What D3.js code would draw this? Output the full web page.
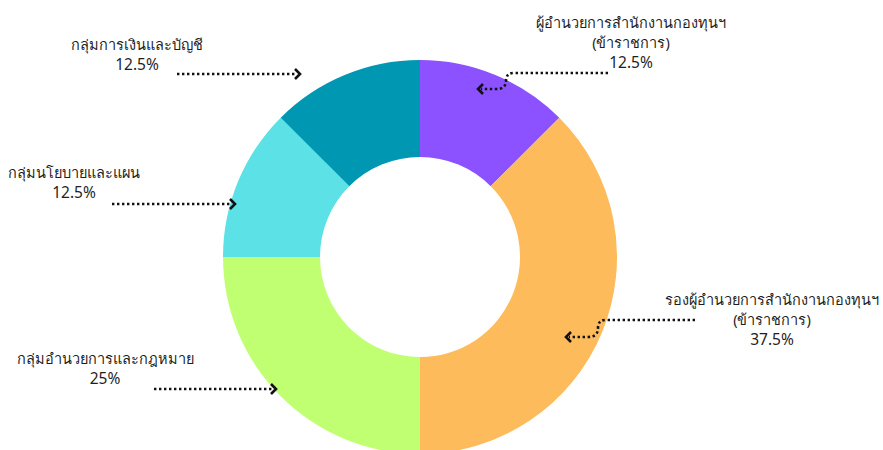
<!DOCTYPE html>
<html>
<head>
<meta charset="utf-8">
<script src="https://cdn.jsdelivr.net/npm/d3@7"></script>
<style>
  body { margin: 0; background: #fff; }
  text { font-family: "Noto Sans", "DejaVu Sans", sans-serif; fill: #1f1f1f; }
</style>
</head>
<body>
<svg id="donutSVG" width="883" height="450"></svg>
<script>
// slices clockwise from 12 o'clock
const categories = ['ผู้อำนวยการสำนักงานกองทุนฯ (ข้าราชการ)', 'รองผู้อำนวยการสำนักงานกองทุนฯ (ข้าราชการ)', 'กลุ่มอำนวยการและกฎหมาย', 'กลุ่มนโยบายและแผน', 'กลุ่มการเงินและบัญชี'];
const values = [12.5, 37.5, 25, 12.5, 12.5];
const labelLines = [
  ['ผู้อำนวยการสำนักงานกองทุนฯ', '(ข้าราชการ)'],
  ['รองผู้อำนวยการสำนักงานกองทุนฯ', '(ข้าราชการ)'],
  ['กลุ่มอำนวยการและกฎหมาย'],
  ['กลุ่มนโยบายและแผน'],
  ['กลุ่มการเงินและบัญชี']
];
const colors = ['#8c52ff', '#fdbb5b', '#c1ff72', '#5ce1e6', '#0097b2'];

// where each label / arrow sits
const layout = [
  {x: 631, y: 28, arrow: 'M608,73 H514 Q506,73 506,81 Q506,89 496,89 H481', tip: [478, 89], dir: -1},
  {x: 772, y: 305, arrow: 'M695,320 H606 Q598,320 598,328 Q598,337 588,337 H569', tip: [566, 337], dir: -1},
  {x: 105, y: 364, arrow: 'M154,389 H273', tip: [276, 389], dir: 1},
  {x: 74, y: 178, arrow: 'M112,204 H232', tip: [235, 204], dir: 1},
  {x: 137, y: 50, arrow: 'M177,74 H297', tip: [300, 74], dir: 1}
];

let svg = d3.select('svg#donutSVG');
let cx = 420, cy = 257;
let outerR = 197, innerR = 100;

let pie = d3.pie().sort(null).value(d => d);
let arc = d3.arc().innerRadius(innerR).outerRadius(outerR);

let g = svg.append('g').attr('transform', `translate(${cx},${cy})`);
g.selectAll('path')
  .data(pie(values))
  .enter().append('path')
  .attr('d', arc)
  .attr('fill', (d, i) => colors[i]);

let lineH = 20;
layout.forEach((p, i) => {
  let lines = labelLines[i].concat([values[i] + '%']);
  let t = svg.append('text')
    .attr('text-anchor', 'middle')
    .attr('font-size', 14.5);
  lines.forEach((s, j) => {
    t.append('tspan')
      .attr('x', p.x)
      .attr('y', p.y + j * lineH)
      .attr('font-size', j == lines.length - 1 ? 15.5 : null)
      .text(s);
  });

  // dotted leader line
  svg.append('path')
    .attr('d', p.arrow)
    .attr('fill', 'none')
    .attr('stroke', '#111')
    .attr('stroke-width', 2.6)
    .attr('stroke-dasharray', '2.4,2.6');
  // chevron head
  let tx = p.tip[0], ty = p.tip[1], d = p.dir;
  svg.append('path')
    .attr('d', `M${tx - d * 5},${ty - 5} L${tx},${ty} L${tx - d * 5},${ty + 5}`)
    .attr('fill', 'none')
    .attr('stroke', '#111')
    .attr('stroke-width', 2.6)
    .attr('stroke-linejoin', 'miter');
});
</script>
</body>
</html>
